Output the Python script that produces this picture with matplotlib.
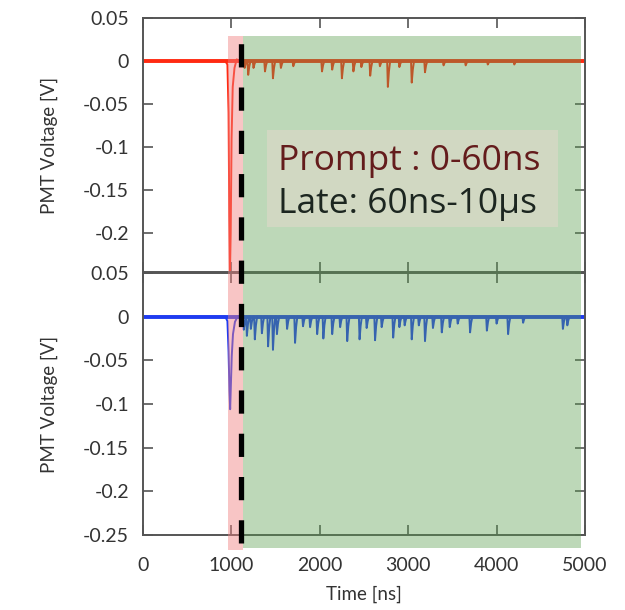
import matplotlib
matplotlib.use('Agg')
import matplotlib.pyplot as plt
from matplotlib.patches import Rectangle
from matplotlib.lines import Line2D
from matplotlib.transforms import blended_transform_factory

plt.rcParams['axes.unicode_minus'] = False
plt.rcParams['font.family'] = ['Lato', 'DejaVu Sans']

# main pulse (ns, V)
top_pulse_t = [930, 955, 968, 976, 984, 992, 1002, 1015, 1035, 1060, 1090]
top_pulse_v = [0.0, -0.004, -0.06, -0.18, -0.245, -0.2, -0.09, -0.03, -0.008, 0.002, 0.0]
bot_pulse_t = [930, 955, 968, 978, 986, 994, 1004, 1018, 1040, 1070]
bot_pulse_v = [0.0, -0.005, -0.04, -0.085, -0.106, -0.08, -0.045, -0.02, -0.006, 0.0]

# late pulses (ns, V)
top_spike_t = [1150, 1190, 1250, 1380, 1470, 1560, 1700, 2025, 2140, 2250, 2380, 2470,
               2570, 2680, 2770, 2900, 3040, 3190, 3400, 3650, 3900, 4200]
top_spike_v = [-0.008, -0.016, -0.008, -0.012, -0.02, -0.008, -0.006, -0.012, -0.01, -0.02,
               -0.012, -0.007, -0.017, -0.006, -0.03, -0.007, -0.025, -0.013, -0.005, -0.005,
               -0.004, -0.004]
bot_spike_t = [1140, 1175, 1220, 1265, 1345, 1415, 1470, 1515, 1630, 1720, 1810, 1890, 1970,
               2040, 2140, 2230, 2310, 2450, 2530, 2625, 2700, 2830, 2900, 2960, 3040, 3120,
               3190, 3280, 3380, 3470, 3560, 3700, 3890, 4000, 4130, 4300, 4750, 4800]
bot_spike_v = [-0.015, -0.022, -0.014, -0.026, -0.019, -0.034, -0.038, -0.02, -0.014, -0.03,
               -0.011, -0.012, -0.02, -0.025, -0.02, -0.012, -0.028, -0.026, -0.013, -0.027,
               -0.012, -0.024, -0.012, -0.01, -0.026, -0.01, -0.028, -0.013, -0.018, -0.012,
               -0.008, -0.018, -0.016, -0.008, -0.02, -0.007, -0.014, -0.01]

x_ticks = [0, 1000, 2000, 3000, 4000, 5000]
top_y_ticks = [0.05, 0, -0.05, -0.1, -0.15, -0.2]
top_y_labels = ['0.05', '0', '-0.05', '-0.1', '-0.15', '-0.2']
bot_y_ticks = [0.05, 0, -0.05, -0.1, -0.15, -0.2, -0.25]
bot_y_labels = ['0.05', '0', '-0.05', '-0.1', '-0.15', '-0.2', '-0.25']

prompt_window = (965, 1130)
late_window = (1130, 4955)
cut_time = 1105


def trace(pulse_t, pulse_v, spike_t, spike_v):
    t = [0] + list(pulse_t)
    v = [0.0] + list(pulse_v)
    for st, sv in zip(spike_t, spike_v):
        t += [st - 8, st, st + 12, st + 26]
        v += [0.0, sv, sv * 0.4, 0.0]
    t.append(5000)
    v.append(0.0)
    return t, v


fig = plt.figure(figsize=(6.25, 6.1), dpi=100)
ax1 = fig.add_axes([0.2288, 0.554, 0.7072, 0.4165])
ax2 = fig.add_axes([0.2288, 0.123, 0.7072, 0.4295])

panels = [
    (ax1, '#ff2a12', trace(top_pulse_t, top_pulse_v, top_spike_t, top_spike_v),
     (-0.245, 0.05), top_y_ticks, top_y_labels),
    (ax2, '#1f3cf0', trace(bot_pulse_t, bot_pulse_v, bot_spike_t, bot_spike_v),
     (-0.25, 0.05), bot_y_ticks, bot_y_labels),
]
for ax, col, (t, v), ylim, yt, yl in panels:
    ax.plot([0, 5000], [0, 0], color=col, lw=2.8, solid_capstyle='butt')
    ax.plot(t, v, color=col, lw=1.4)
    ax.set_xlim(0, 5000)
    ax.set_ylim(*ylim)
    ax.set_xticks(x_ticks)
    ax.set_yticks(yt)
    ax.set_yticklabels(yl)
    ax.tick_params(direction='in', length=7, width=1.2, color='#555555',
                   top=True, right=True, labelsize=14, pad=10, labelcolor='#333333')
    for s in ax.spines.values():
        s.set_color('#555555')
        s.set_linewidth(1.4)
    ax.set_ylabel('PMT Voltage [V]', fontsize=13.5, color='#333333', labelpad=18)

ax1.tick_params(labelbottom=False)
ax2.set_xticklabels([str(x) for x in x_ticks])
ax2.set_xlabel('Time [ns]', fontsize=13.5, color='#333333', labelpad=8)
ax2.tick_params(axis='x', pad=16)

# shaded windows, spanning both panels
tr = blended_transform_factory(ax2.transData, fig.transFigure)
y0, y1 = 1 - 548 / 610, 1 - 36 / 610
fig.add_artist(Rectangle((prompt_window[0], y0 - 0.004), prompt_window[1] - prompt_window[0],
                         y1 - y0 + 0.004, transform=tr, facecolor='#f08080', alpha=0.45,
                         edgecolor='none', zorder=3))
fig.add_artist(Rectangle((late_window[0], y0), late_window[1] - late_window[0], y1 - y0,
                         transform=tr, facecolor='#5a9e4f', alpha=0.4,
                         edgecolor='none', zorder=3))
fig.add_artist(Line2D([cut_time, cut_time], [1 - 543 / 610, 1 - 35 / 610], transform=tr,
                      color='black', lw=3.8, linestyle=(0, (4.4, 3.8)), zorder=4))

# label box
fig.add_artist(Rectangle((267 / 625, 1 - 227 / 610), 291 / 625, 97 / 610,
                         transform=fig.transFigure, facecolor='#e6d8cc', alpha=0.5,
                         edgecolor='none', zorder=5))
fig.text(278 / 625, 1 - 161 / 610, 'Prompt : 0-60ns', fontsize=25.5, color='#641c1c',
         family=['Open Sans', 'DejaVu Sans'], va='center', ha='left', zorder=6)
fig.text(278 / 625, 1 - 204 / 610, 'Late: 60ns-10µs', fontsize=25.5, color='#1c2620',
         family=['Open Sans', 'DejaVu Sans'], va='center', ha='left', zorder=6)

fig.savefig('out.png', dpi=100)
